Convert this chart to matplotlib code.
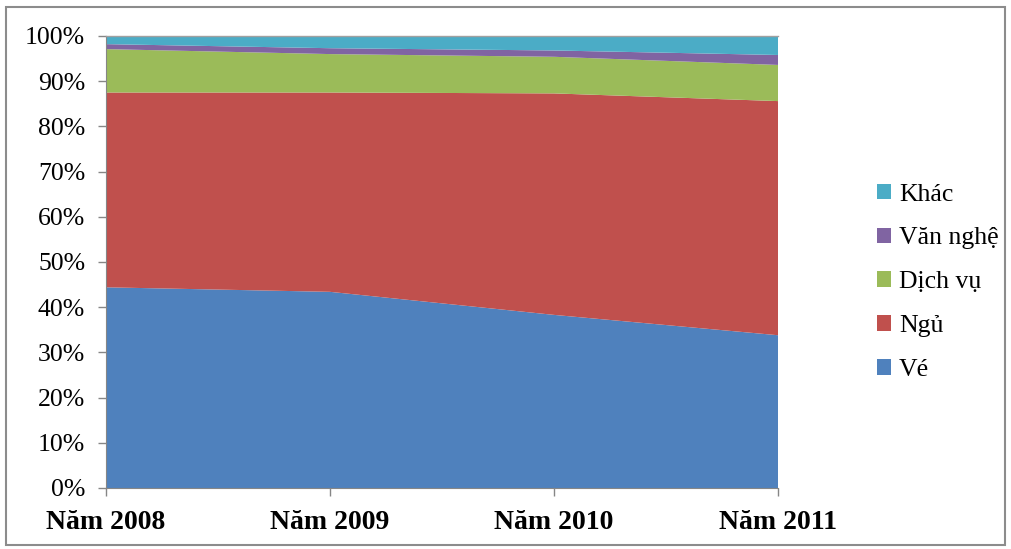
import matplotlib
matplotlib.use("Agg")
import matplotlib.pyplot as plt
from matplotlib.patches import Rectangle
from matplotlib.ticker import PercentFormatter

years = ["Năm 2008", "Năm 2009", "Năm 2010", "Năm 2011"]
ve = [44.4, 43.4, 38.3, 33.8]
ngu = [43.1, 44.1, 49.0, 51.8]
dich_vu = [9.6, 8.5, 8.1, 8.0]
van_nghe = [1.1, 1.3, 1.4, 2.2]
khac = [1.8, 2.7, 3.2, 4.2]

series_names = ["Vé", "Ngủ", "Dịch vụ", "Văn nghệ", "Khác"]
colors = ["#4F81BD", "#C0504D", "#9BBB59", "#8064A2", "#4BACC6"]

plt.rcParams['font.family'] = ['Liberation Serif', 'DejaVu Serif']

fig = plt.figure(figsize=(10.12, 5.49), dpi=100)
ax = fig.add_axes([106/1012, 61/549, 672/1012, 452/549])

x = list(range(len(years)))
polys = ax.stackplot(x, ve, ngu, dich_vu, van_nghe, khac, colors=colors,
                     labels=series_names, linewidth=0)

ax.set_xlim(0, len(years) - 1)
ax.set_ylim(0, 100)
ax.set_yticks(range(0, 101, 10))
ax.yaxis.set_major_formatter(PercentFormatter(decimals=0))
ax.set_xticks(x)
ax.set_xticklabels(years, fontsize=20, fontweight='bold')
for lab in ax.get_yticklabels():
    lab.set_fontsize(18.5)

spine_col = "#868686"
ax.spines["right"].set_visible(False)
ax.spines["top"].set_color("#a0a0a0")
ax.spines["top"].set_linewidth(1.0)
ax.spines["left"].set_color(spine_col)
ax.spines["bottom"].set_color(spine_col)
ax.tick_params(axis='both', direction='out', length=6, color=spine_col, width=1)
ax.tick_params(axis='y', pad=9)
ax.tick_params(axis='x', pad=10)

handles, labels = ax.get_legend_handles_labels()
leg = fig.legend(handles[::-1], labels[::-1], loc='center left',
                 bbox_to_anchor=(854/1012, 0.486), frameon=False,
                 fontsize=18.5, handlelength=0.55, handleheight=0.55,
                 handletextpad=0.3, labelspacing=0.85)

fig.patches.append(Rectangle((6/1012, 4/549), 999/1012, 538/549,
                             transform=fig.transFigure, fill=False,
                             edgecolor="#8c8c8c", linewidth=1.5))

fig.savefig("out.png", dpi=100)
